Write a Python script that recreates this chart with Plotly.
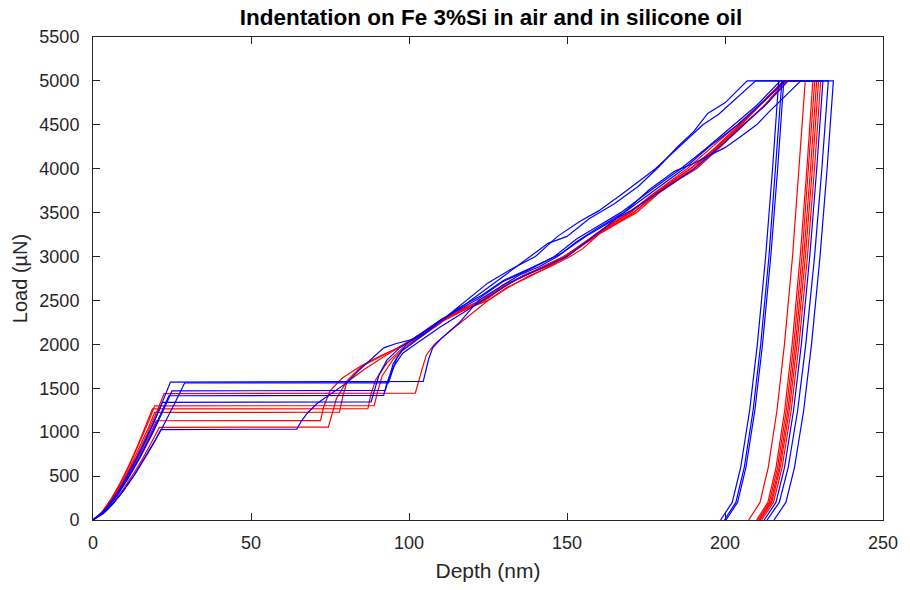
import plotly.graph_objects as go

# ---------------- data ----------------
# Blue curves
b1_depth = [0, 3.7, 7.4, 11.0, 14.7, 18.4, 22.1, 24.5, 104.5, 105.3, 106.2, 107.5, 110, 116, 122, 129, 135, 141, 147, 153, 160, 168, 176, 187, 195, 204, 212, 219, 232.7,
            230.65, 228.34, 225.56, 223.0, 220.01, 217.18, 213.3]
b1_load = [0, 110, 290, 513, 768, 1049, 1355, 1570, 1578, 1700, 1830, 1960, 2060, 2250, 2500, 2660, 2790, 2880, 3000, 3170, 3330, 3500, 3710, 4000, 4250, 4500, 4760, 5000, 5000,
           4000, 3000, 2000, 1250, 600, 200, 0]

b2_depth = [0, 4.4, 8.7, 13.1, 17.4, 21.8, 26.1, 29, 93.5, 94.5, 96, 99, 105, 112, 118, 125, 132, 140, 147, 154, 160, 167, 178, 186, 193, 198, 203, 209.7, 218.0,
            216.07, 213.91, 211.30, 208.9, 206.10, 203.44, 199.8]
b2_load = [0, 110, 289, 510, 763, 1042, 1346, 1560, 1562, 1680, 1830, 2000, 2130, 2320, 2500, 2700, 2850, 3000, 3230, 3400, 3520, 3700, 4000, 4270, 4500, 4620, 4780, 5000, 5000,
           4000, 3000, 2000, 1250, 600, 200, 0]

b3_depth = [0, 3.8, 7.5, 11.3, 15, 18.8, 22.5, 25, 92.5, 93.5, 95, 97.5, 101, 107, 115, 123, 130, 138, 148, 156, 163, 170, 180, 190, 198, 206, 213, 220, 231.0,
            229.03, 226.82, 224.16, 221.7, 218.84, 216.12, 212.4]
b3_load = [0, 103, 272, 481, 719, 982, 1269, 1470, 1475, 1600, 1780, 1920, 2010, 2180, 2400, 2560, 2730, 2860, 3030, 3230, 3380, 3520, 3760, 3990, 4240, 4500, 4730, 5000, 5000,
           4000, 3000, 2000, 1250, 600, 200, 0]

b4_depth = [0, 3.6, 7.2, 10.8, 14.4, 18, 21.6, 24, 92, 93, 95, 98, 102, 110, 118, 126, 134, 142, 150, 158, 168, 176, 184, 190, 194.5, 200, 205, 210, 214, 219, 224, 234.3,
            232.31, 230.07, 227.38, 224.9, 222.0, 219.26, 215.5]
b4_load = [0, 99, 262, 463, 692, 945, 1221, 1415, 1420, 1560, 1740, 1900, 2000, 2200, 2380, 2560, 2740, 2870, 3000, 3220, 3500, 3760, 3970, 4060, 4140, 4240, 4367, 4500, 4650, 4830, 5000, 5000,
           4000, 3000, 2000, 1250, 600, 200, 0]

b5_depth = [0, 3.3, 6.6, 9.9, 13.2, 16.5, 19.8, 22, 88, 89, 90.5, 93, 97, 103, 110, 117, 122, 130, 138, 146, 153, 160, 167, 176, 186, 194, 203, 210, 217.5, 218.6,
            216.66, 214.48, 211.87, 209.45, 206.63, 203.96, 200.3]
b5_load = [0, 94, 248, 438, 655, 895, 1156, 1340, 1345, 1480, 1650, 1820, 1960, 2100, 2280, 2420, 2520, 2720, 2850, 3000, 3200, 3350, 3500, 3740, 4000, 4230, 4500, 4720, 5000, 5000,
           4000, 3000, 2000, 1250, 600, 200, 0]

b6_depth = [0, 3.2, 6.5, 9.7, 12.9, 16.1, 19.4, 21.5, 64.5, 66, 68, 71, 74.3, 77.5, 80.6, 84, 88, 92, 96, 101.5, 108, 117, 124, 130, 137, 144, 150, 157, 165, 172.6, 179, 185, 190, 194.6, 200, 207, 217.0,
            215.05, 212.86, 210.23, 207.8, 204.97, 202.28, 198.6]
b6_load = [0, 72, 191, 337, 504, 688, 889, 1030, 1035, 1130, 1224, 1330, 1413, 1500, 1570, 1700, 1830, 1960, 2010, 2060, 2220, 2435, 2620, 2780, 2966, 3150, 3230, 3430, 3600, 3800, 4020, 4250, 4420, 4633, 4750, 5000, 5000,
           4000, 3000, 2000, 1250, 600, 200, 0]

# Red curves
r1_depth = [0, 3.4, 6.8, 10.1, 13.5, 16.9, 20.3, 22.5, 102, 103, 104, 105.5, 108, 114, 120, 125, 131, 137, 143, 150, 155, 160, 165, 171, 178, 183, 190, 197, 205, 212, 219, 230.3,
            228.32, 226.09, 223.42, 220.95, 218.07, 215.34, 211.6]
r1_load = [0, 101, 266, 471, 704, 962, 1243, 1440, 1445, 1560, 1700, 1880, 2000, 2180, 2350, 2500, 2650, 2750, 2860, 3000, 3130, 3260, 3360, 3500, 3700, 3820, 4000, 4220, 4500, 4760, 5000, 5000,
           4000, 3000, 2000, 1250, 600, 200, 0]

r2_depth = [0, 2.9, 5.9, 8.8, 11.7, 14.6, 17.6, 19.5, 89, 90, 91.5, 95, 99, 105, 112, 118, 124, 130, 137, 143, 149.5, 154, 160, 165, 170, 177, 183, 189, 196, 205.5, 212, 219.5, 229.0,
            227.07, 224.91, 222.30, 219.9, 217.10, 214.44, 210.8]
r2_load = [0, 91, 241, 425, 636, 868, 1122, 1300, 1302, 1450, 1640, 1830, 1980, 2120, 2300, 2400, 2500, 2660, 2800, 2880, 3000, 3120, 3280, 3400, 3500, 3700, 3850, 4000, 4200, 4500, 4700, 5000, 5000,
           4000, 3000, 2000, 1250, 600, 200, 0]

r3_depth = [0, 2.8, 5.6, 8.5, 11.3, 14.1, 16.9, 18.8, 87, 88, 89.5, 93, 98, 104, 111, 118, 125, 131, 138, 145, 151, 155, 160, 166, 172, 179, 185, 191, 198, 206, 213, 219, 227.8,
            225.91, 223.79, 221.25, 218.9, 216.16, 213.56, 210.0]
r3_load = [0, 89, 234, 414, 619, 845, 1092, 1265, 1268, 1440, 1600, 1790, 1960, 2090, 2270, 2400, 2500, 2640, 2780, 2890, 3000, 3090, 3250, 3380, 3500, 3720, 3870, 4000, 4230, 4500, 4740, 5000, 5000,
           4000, 3000, 2000, 1250, 600, 200, 0]

r4_depth = [0, 2.9, 5.9, 8.8, 11.7, 14.6, 17.6, 19.5, 78, 79, 80.5, 85, 92, 98, 104, 111, 117, 123, 130, 136, 143, 149, 155, 162, 170, 176, 182, 188, 195, 204, 211, 218.5, 225.4,
            223.50, 221.37, 218.81, 216.45, 213.69, 211.08, 207.5]
r4_load = [0, 86, 227, 401, 599, 818, 1057, 1225, 1228, 1400, 1590, 1750, 1880, 1990, 2130, 2300, 2410, 2500, 2680, 2770, 2900, 3000, 3150, 3320, 3500, 3680, 3840, 4000, 4220, 4500, 4730, 5000, 5000,
           4000, 3000, 2000, 1250, 600, 200, 0]

r5_depth = [0, 3, 6, 9, 12, 15, 18, 20, 72, 73, 75, 79, 85, 91, 96, 102, 109, 116, 124, 130, 137, 144, 150, 156, 163, 171, 177, 184, 190, 197, 205, 212, 219, 228.4,
            226.49, 224.35, 221.78, 219.4, 216.63, 214.0, 210.4]
r5_load = [0, 79, 209, 370, 553, 755, 975, 1130, 1132, 1290, 1470, 1620, 1760, 1870, 1950, 2080, 2250, 2380, 2500, 2660, 2790, 2890, 3000, 3170, 3330, 3500, 3690, 3860, 4000, 4230, 4500, 4760, 5000, 5000,
           4000, 3000, 2000, 1250, 600, 200, 0]

r6_depth = [0, 3.2, 6.3, 9.5, 12.6, 15.8, 18.9, 21, 74.5, 75.5, 77, 80, 86, 92, 97, 103, 110, 117, 123, 129, 136, 142, 148, 153, 158, 164, 170, 176, 183, 189, 196, 204, 211, 218.5, 229.6,
            227.64, 225.44, 222.79, 220.35, 217.50, 214.8, 211.1]
r6_load = [0, 74, 195, 345, 516, 705, 910, 1055, 1058, 1200, 1380, 1560, 1720, 1860, 1970, 2100, 2270, 2400, 2510, 2640, 2780, 2870, 2980, 3090, 3200, 3370, 3510, 3670, 3850, 4000, 4210, 4480, 4720, 5000, 5000,
           4000, 3000, 2000, 1250, 600, 200, 0]

red_curves = [(r1_depth, r1_load), (r2_depth, r2_load), (r3_depth, r3_load),
              (r4_depth, r4_load), (r5_depth, r5_load), (r6_depth, r6_load)]
blue_curves = [(b1_depth, b1_load), (b2_depth, b2_load), (b3_depth, b3_load),
               (b4_depth, b4_load), (b5_depth, b5_load), (b6_depth, b6_load)]

x_ticks = [0, 50, 100, 150, 200, 250]
y_ticks = [0, 500, 1000, 1500, 2000, 2500, 3000, 3500, 4000, 4500, 5000, 5500]

title_text = "Indentation on Fe 3%Si in air and in silicone oil"
x_title = "Depth (nm)"
y_title = "Load (µN)"

# ---------------- figure ----------------
fig = go.Figure()
for d, l in red_curves:
    fig.add_trace(go.Scatter(x=d, y=l, mode="lines",
                             line=dict(color="#ff0000", width=1.2), hoverinfo="skip"))
for d, l in blue_curves:
    fig.add_trace(go.Scatter(x=d, y=l, mode="lines",
                             line=dict(color="#0000ff", width=1.2), hoverinfo="skip"))

FONT = "Liberation Sans, Arial, sans-serif"
axis_common = dict(
    showline=True, linecolor="#262626", linewidth=1, mirror="ticks",
    ticks="inside", ticklen=7, tickwidth=1, tickcolor="#262626",
    showgrid=False, zeroline=False,
    tickfont=dict(family=FONT, size=18, color="#262626"),
)

fig.update_layout(
    width=910, height=590,
    margin=dict(l=93, r=17, t=37, b=69),
    paper_bgcolor="white", plot_bgcolor="white",
    showlegend=False,
    font=dict(family=FONT, color="#262626"),
    title=dict(text="<b>" + title_text + "</b>", x=491 / 910, xanchor="center",
               y=1 - 17 / 590, yanchor="middle", yref="container",
               font=dict(size=22.5, color="#000000")),
    xaxis=dict(range=[0, 250], tickvals=x_ticks,
               title=dict(text=x_title, font=dict(size=21, color="#262626"), standoff=11),
               ticklabelstandoff=6,
               **axis_common),
    yaxis=dict(range=[0, 5500], tickvals=y_ticks,
               title=dict(text=y_title, font=dict(size=20, color="#262626"), standoff=6),
               ticklabelstandoff=9,
               **axis_common),
)

fig.write_html("out.html")
